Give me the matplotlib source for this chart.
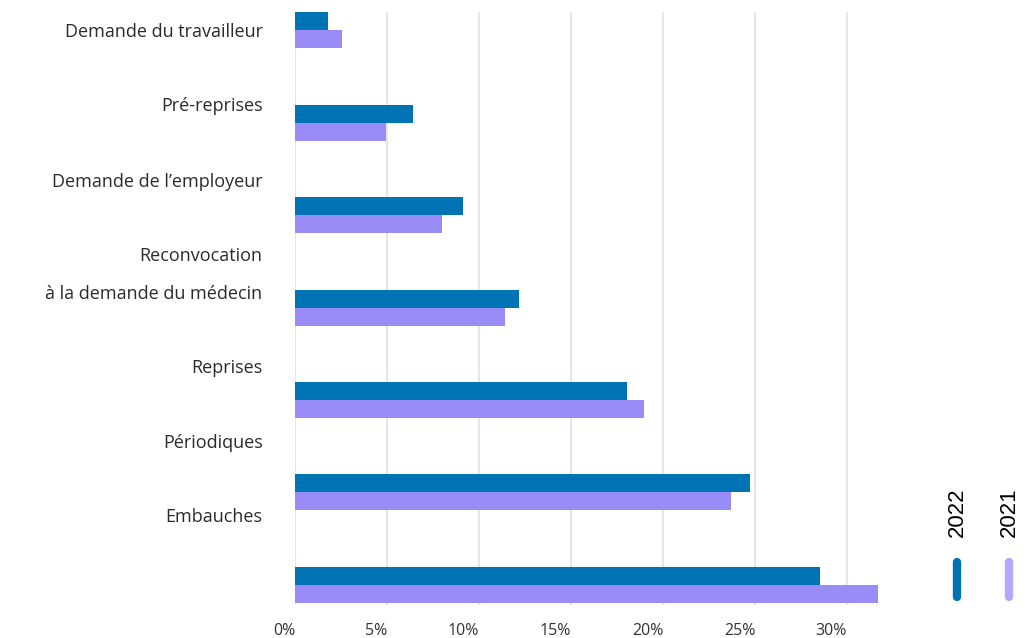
import numpy as np
import matplotlib.pyplot as plt
from matplotlib.lines import Line2D

# share of visits by type, percent
categories = ["Demande du travailleur", "Pré-reprises", "Demande de l’employeur",
              "Reconvocation à la demande du médecin", "Reprises", "Périodiques", "Embauches"]
values_2022 = [1.75, 6.42, 9.13, 12.13, 18.03, 24.73, 28.53]
values_2021 = [2.51, 4.90, 7.99, 11.41, 18.96, 23.68, 31.66]

# y-axis labels, listed top to bottom
label_texts = ["Demande du travailleur", "Pré-reprises", "Demande de l’employeur",
               "Reconvocation", "à la demande du médecin", "Reprises", "Périodiques", "Embauches"]
label_pos = [0.0, 0.8, 1.62, 2.42, 2.83, 3.63, 4.44, 5.25]

xticks = [0, 5, 10, 15, 20, 25, 30]

c22 = "#0073b5"
c21 = "#998cf6"

fig = plt.figure(figsize=(10.33, 6.38), dpi=100)
ax = fig.add_axes([0.2851, 0.0517, 0.5706, 0.9295])

y = np.arange(len(categories))
h = 0.195
ax.barh(y - h/2, values_2022, height=h, color=c22, zorder=3)
ax.barh(y + h/2, values_2021, height=h, color=c21, zorder=3)

ax.set_xlim(-0.05, 32)
ax.set_ylim(6.22, -0.2)

for s in ax.spines.values():
    s.set_visible(False)

ax.set_xticks(xticks)
ax.set_xticklabels(["%d%%" % t for t in xticks], fontfamily="Open Sans",
                   fontsize=11.5, color="#333333", ha="right")
ax.tick_params(axis="x", length=0, pad=13)
ax.grid(axis="x", color="#e6e6e6", lw=1.5, zorder=0)

ax.set_yticks(label_pos)
ax.set_yticklabels(label_texts, fontfamily="Open Sans", fontsize=13, color="#2b2b2b")
ax.tick_params(axis="y", length=0, pad=23)

# vertical legend in the lower right corner
for xf, txt, col in [(957, "2022", c22), (1009, "2021", "#b3a9fb")]:
    fig.text(xf / 1033, 1 - 512 / 638, txt, rotation=90, ha="center", va="center",
             fontfamily="Liberation Sans", fontsize=16, color="black")
    fig.add_artist(Line2D([xf / 1033, xf / 1033], [1 - 562 / 638, 1 - 597 / 638],
                          color=col, lw=6, solid_capstyle="round"))

fig.savefig("out.png", dpi=100)
